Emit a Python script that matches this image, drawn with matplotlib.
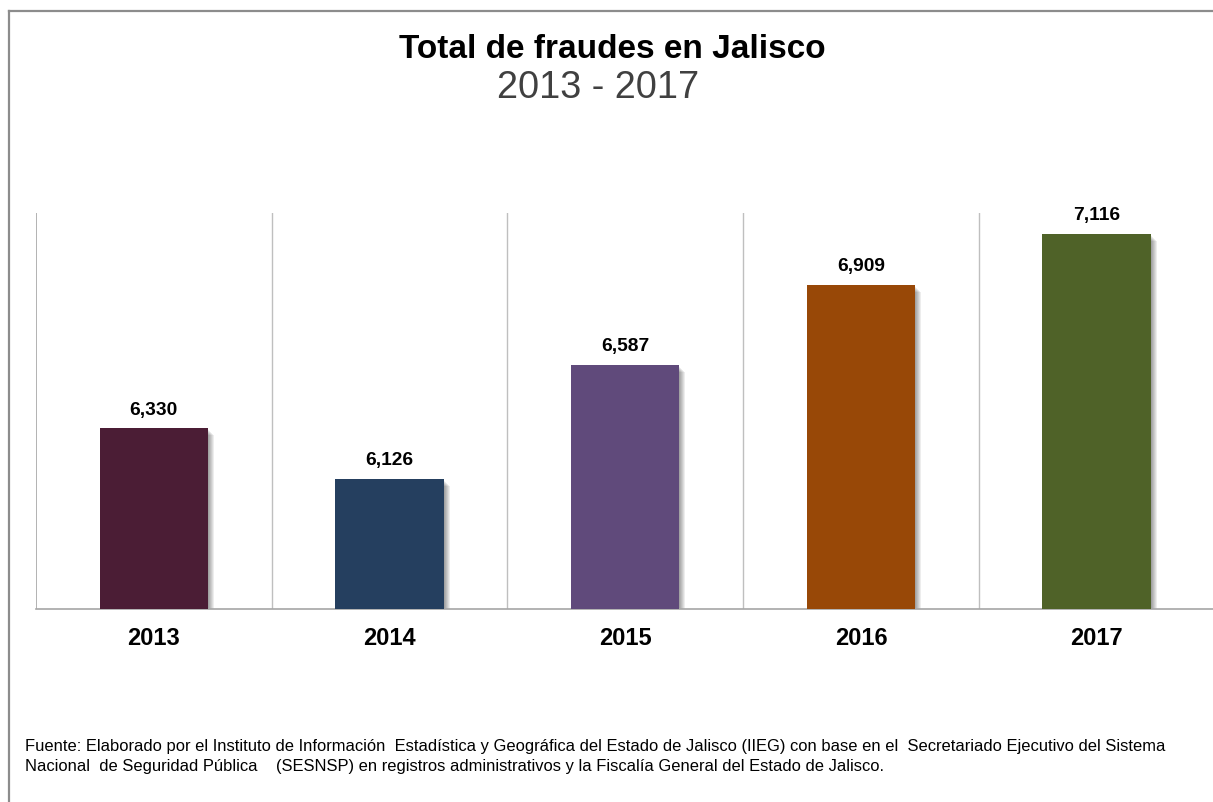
import matplotlib
matplotlib.use("Agg")
import matplotlib.pyplot as plt
from matplotlib.patches import Rectangle
from matplotlib.lines import Line2D

plt.rcParams['font.family'] = ['Liberation Sans', 'DejaVu Sans']

years = ["2013", "2014", "2015", "2016", "2017"]
values = [6330, 6126, 6587, 6909, 7116]
colors = ["#4B1D35", "#253F5F", "#604A7B", "#984807", "#4F6228"]
title = "Total de fraudes en Jalisco"
subtitle = "2013 - 2017"
footnote_lines = [
    "Fuente: Elaborado por el Instituto de Información  Estadística y Geográfica del Estado de Jalisco (IIEG) con base en el  Secretariado Ejecutivo del Sistema",
    "Nacional  de Seguridad Pública    (SESNSP) en registros administrativos y la Fiscalía General del Estado de Jalisco.",
]

W, H = 1213, 802
fig = plt.figure(figsize=(W / 100, H / 100), dpi=100)
fig.patch.set_facecolor("white")

# outer frame (top and left visible)
fig.add_artist(Line2D([9 / W, 9 / W], [0, 1 - 11 / H], transform=fig.transFigure, color="#8C8C8C", lw=1.6))
fig.add_artist(Line2D([9 / W, 1.0], [1 - 11 / H, 1 - 11 / H], transform=fig.transFigure, color="#8C8C8C", lw=1.6))

left, right = 36 / W, 1214.5 / W
bottom, top = (H - 609) / H, (H - 213) / H
ax = fig.add_axes([left, bottom, right - left, top - bottom])
ax.set_xlim(-0.5, len(years) - 0.5)
ax.set_ylim(5600, 7200)

bw = 0.46
x = list(range(len(years)))
px_x = 5 / (right - left) / W      # data units per pixel (x)
px_y = 1600 / (top - bottom) / H   # data units per pixel (y)
# soft shadow on the right side
for i, v in zip(x, values):
    for k in range(1, 7):
        ax.add_patch(Rectangle((i - bw / 2 + k * px_x, 5600), bw, v - 5600 - (k + 1) * px_y,
                               facecolor="black", alpha=0.07, lw=0, zorder=1))
ax.bar(x, values, width=bw, bottom=0, color=colors, zorder=3)

for i, v in zip(x, values):
    ax.annotate(f"{v:,}", (i, v), xytext=(0, 7), textcoords="offset points",
                ha="center", va="bottom", fontsize=13.8, fontweight="bold", color="black")

for b in [0.5, 1.5, 2.5, 3.5]:
    ax.axvline(b, color="#BFBFBF", lw=1, zorder=0)
ax.axvline(-0.5, color="#A6A6A6", lw=1.2, zorder=0)

for s in ["top", "right", "left"]:
    ax.spines[s].set_visible(False)
ax.spines["bottom"].set_color("#A6A6A6")
ax.spines["bottom"].set_linewidth(1.2)
ax.set_yticks([])
ax.set_xticks(x)
ax.set_xticklabels(years, fontsize=17, fontweight="bold")
ax.tick_params(axis="x", length=0, pad=13)

fig.text(612 / W, 1 - 58 / H, title, ha="center", va="baseline", fontsize=24, fontweight="bold", color="black")
fig.text(598 / W, 1 - 98 / H, subtitle, ha="center", va="baseline", fontsize=27.3, color="#404040")
for j, line in enumerate(footnote_lines):
    fig.text(25 / W, 1 - (751 + 20 * j) / H, line, ha="left", va="baseline", fontsize=11.9, color="black")

fig.savefig("out.png", dpi=100)
